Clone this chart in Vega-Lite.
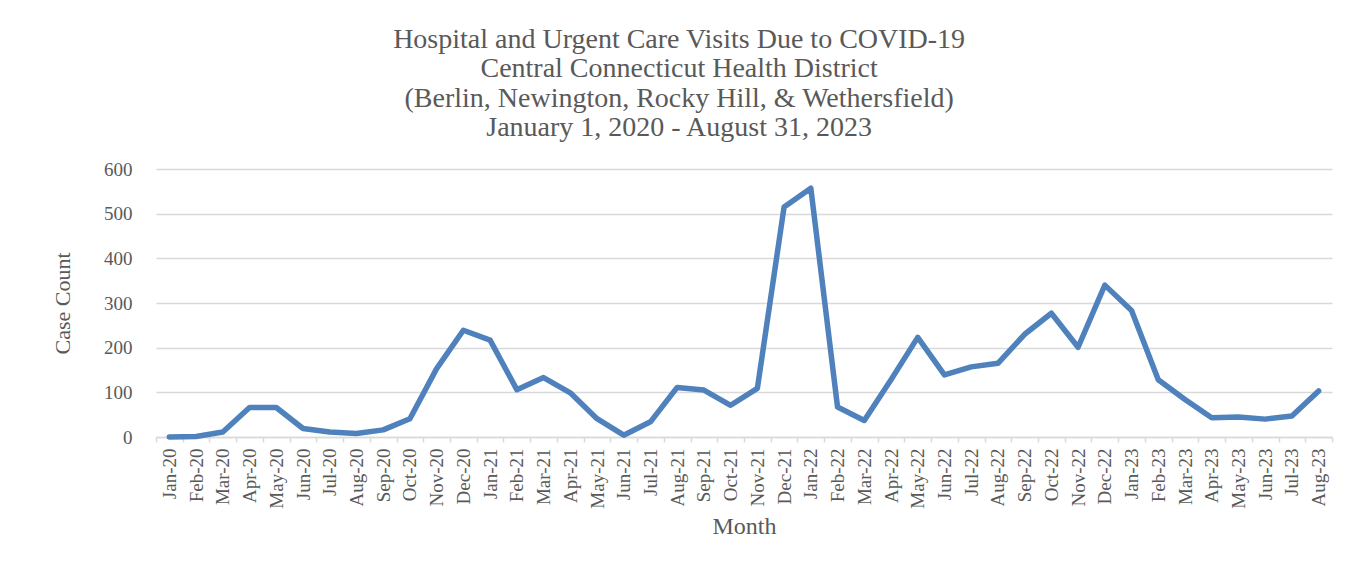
{
  "$schema": "https://vega.github.io/schema/vega-lite/v6.json",
  "autosize": {"type": "none"},
  "width": 1176,
  "height": 268,
  "padding": {"left": 156, "top": 169, "right": 32, "bottom": 129},
  "background": "white",
  "title": {
    "text": ["Hospital and Urgent Care Visits Due to COVID-19", "Central Connecticut Health District", "(Berlin, Newington, Rocky Hill, & Wethersfield)", "January 1, 2020 - August 31, 2023"],
    "font": "Liberation Serif",
    "fontSize": 28,
    "fontWeight": "normal",
    "color": "#595959",
    "lineHeight": 29.5,
    "anchor": "middle",
    "frame": "bounds",
    "offset": 18,
    "dx": -13
  },
  "data": {
    "values": [
      {"month": "Jan-20", "count": 0},
      {"month": "Feb-20", "count": 1},
      {"month": "Mar-20", "count": 11},
      {"month": "Apr-20", "count": 66},
      {"month": "May-20", "count": 66},
      {"month": "Jun-20", "count": 19},
      {"month": "Jul-20", "count": 11},
      {"month": "Aug-20", "count": 8},
      {"month": "Sep-20", "count": 16},
      {"month": "Oct-20", "count": 41},
      {"month": "Nov-20", "count": 153},
      {"month": "Dec-20", "count": 239},
      {"month": "Jan-21", "count": 217},
      {"month": "Feb-21", "count": 106},
      {"month": "Mar-21", "count": 133},
      {"month": "Apr-21", "count": 99},
      {"month": "May-21", "count": 41},
      {"month": "Jun-21", "count": 4},
      {"month": "Jul-21", "count": 34},
      {"month": "Aug-21", "count": 111},
      {"month": "Sep-21", "count": 105},
      {"month": "Oct-21", "count": 71},
      {"month": "Nov-21", "count": 109},
      {"month": "Dec-21", "count": 515},
      {"month": "Jan-22", "count": 557},
      {"month": "Feb-22", "count": 67},
      {"month": "Mar-22", "count": 37},
      {"month": "Apr-22", "count": 128},
      {"month": "May-22", "count": 223},
      {"month": "Jun-22", "count": 139},
      {"month": "Jul-22", "count": 157},
      {"month": "Aug-22", "count": 165},
      {"month": "Sep-22", "count": 230},
      {"month": "Oct-22", "count": 277},
      {"month": "Nov-22", "count": 201},
      {"month": "Dec-22", "count": 340},
      {"month": "Jan-23", "count": 283},
      {"month": "Feb-23", "count": 128},
      {"month": "Mar-23", "count": 84},
      {"month": "Apr-23", "count": 43},
      {"month": "May-23", "count": 45},
      {"month": "Jun-23", "count": 40},
      {"month": "Jul-23", "count": 47},
      {"month": "Aug-23", "count": 103}
    ]
  },
  "mark": {"type": "line", "color": "#4f81bd", "strokeWidth": 5.5, "strokeJoin": "round", "strokeCap": "round"},
  "encoding": {
    "x": {
      "field": "month",
      "type": "nominal",
      "sort": null,
      "scale": {"paddingInner": 0, "paddingOuter": 0},
      "axis": {
        "title": "Month",
        "titleFont": "Liberation Serif",
        "titleFontSize": 24,
        "titleFontWeight": "normal",
        "titleColor": "#595959",
        "titlePadding": 6,
        "labelFont": "Liberation Serif",
        "labelFontSize": 19,
        "labelColor": "#595959",
        "labelAngle": -90,
        "labelPadding": 6,
        "domainColor": "#d9d9d9",
        "domainWidth": 1.5,
        "tickColor": "#d9d9d9",
        "tickWidth": 1.5,
        "tickSize": 5,
        "tickBand": "extent",
        "grid": false
      }
    },
    "y": {
      "field": "count",
      "type": "quantitative",
      "scale": {"domain": [0, 600], "nice": false},
      "axis": {
        "title": "Case Count",
        "titleFont": "Liberation Serif",
        "titleFontSize": 22,
        "titleFontWeight": "normal",
        "titleColor": "#595959",
        "titlePadding": 29,
        "values": [0, 100, 200, 300, 400, 500, 600],
        "labelFont": "Liberation Serif",
        "labelFontSize": 19,
        "labelColor": "#595959",
        "labelPadding": 24,
        "ticks": false,
        "domain": false,
        "grid": true,
        "gridColor": "#d9d9d9",
        "gridWidth": 1.5
      }
    }
  },
  "config": {"view": {"stroke": null}}
}
